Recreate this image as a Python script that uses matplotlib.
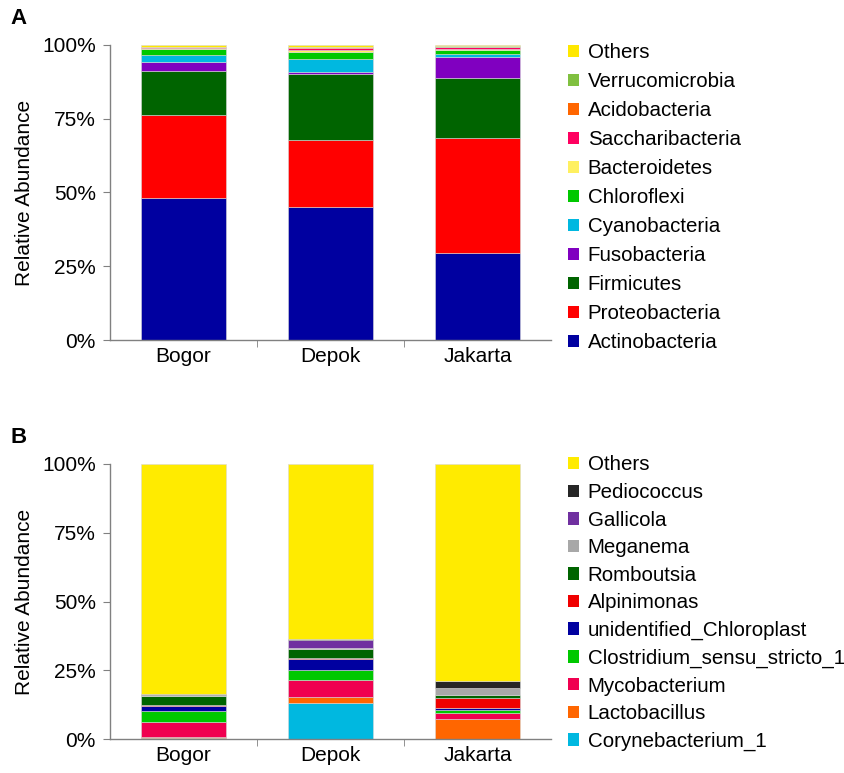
import matplotlib
matplotlib.use("Agg")
import matplotlib.pyplot as plt
from matplotlib.patches import Patch
from matplotlib.ticker import FixedLocator, PercentFormatter

plt.rcParams['font.family'] = ['Liberation Sans', 'DejaVu Sans']

sites = ["Bogor", "Depok", "Jakarta"]

# Panel A: phylum level, bottom to top
phyla = ["Actinobacteria", "Proteobacteria", "Firmicutes", "Fusobacteria",
         "Cyanobacteria", "Chloroflexi", "Bacteroidetes", "Saccharibacteria",
         "Acidobacteria", "Verrucomicrobia", "Others"]
phyla_colors = ["#0000a0", "#ff0000", "#006400", "#8000c0", "#00b8e0",
                "#00c800", "#fff060", "#ff0060", "#ff6600", "#80c040", "#ffe800"]
phyla_vals = {
    "Bogor":   [48.1, 28.1, 15.0, 3.1, 2.2, 2.0, 0.3, 0.4, 0.1, 0.1, 0.6],
    "Depok":   [45.1, 22.7, 22.2, 0.9, 4.4, 2.2, 0.8, 0.6, 0.3, 0.2, 0.6],
    "Jakarta": [29.5, 39.0, 20.2, 7.1, 1.1, 1.5, 0.3, 0.4, 0.2, 0.2, 0.5],
}

# Panel B: genus level, bottom to top
genera = ["Corynebacterium_1", "Lactobacillus", "Mycobacterium",
          "Clostridium_sensu_stricto_1", "unidentified_Chloroplast",
          "Alpinimonas", "Romboutsia", "Meganema", "Gallicola",
          "Pediococcus", "Others"]
genera_colors = ["#00b8e0", "#ff6600", "#f00050", "#00c800", "#0000a0",
                 "#f00000", "#006400", "#a8a8a8", "#7030a0", "#262626", "#ffeb00"]
genera_vals = {
    "Bogor":   [0.3, 0.4, 5.7, 3.9, 1.9, 0.3, 3.3, 0.3, 0.1, 0.2, 83.6],
    "Depok":   [13.3, 2.2, 6.1, 3.4, 4.0, 0.6, 3.0, 0.6, 2.7, 0.6, 63.5],
    "Jakarta": [0.1, 7.4, 2.0, 1.2, 0.8, 3.6, 0.9, 2.5, 0.1, 2.4, 79.0],
}

fig = plt.figure(figsize=(8.44, 7.73), dpi=100)
axA = fig.add_axes([0.130, 0.560, 0.523, 0.382])
axB = fig.add_axes([0.130, 0.0436, 0.523, 0.3564])

grey = "#808080"


def stacked(ax, names, colors, vals, spacing, top):
    x = range(len(sites))
    bottoms = [0.0] * len(sites)
    for i, (name, col) in enumerate(zip(names, colors)):
        h = [vals[s][i] for s in sites]
        ax.bar(x, h, bottom=bottoms, width=0.58, color=col,
               edgecolor="#d8d8d8", linewidth=0.4, label=name)
        bottoms = [b + v for b, v in zip(bottoms, h)]

    ax.set_xlim(-0.5, 2.5)
    ax.set_ylim(0, 100)
    ax.set_yticks([0, 25, 50, 75, 100])
    ax.yaxis.set_major_formatter(PercentFormatter(decimals=0))
    ax.set_xticks(range(len(sites)))
    ax.set_xticklabels(sites)
    ax.xaxis.set_minor_locator(FixedLocator([0.5, 1.5]))
    ax.tick_params(axis="x", which="major", length=0, pad=5, labelsize=15)
    ax.tick_params(axis="x", which="minor", length=5, color=grey, direction="out")
    ax.tick_params(axis="y", length=5, color=grey, labelsize=15, pad=5)
    for sp in ["top", "right"]:
        ax.spines[sp].set_visible(False)
    for sp in ["left", "bottom"]:
        ax.spines[sp].set_color(grey)
        ax.spines[sp].set_linewidth(1.0)
    ax.set_ylabel("Relative Abundance", fontsize=15, labelpad=6)

    handles = [Patch(facecolor=c) for c in colors][::-1]
    ax.legend(handles, names[::-1], loc="upper left",
              bbox_to_anchor=(1.02, top), frameon=False, fontsize=14.8,
              handlelength=0.55, handleheight=0.55, handletextpad=0.4,
              labelspacing=spacing, borderaxespad=0)


stacked(axA, phyla, phyla_colors, phyla_vals, 0.487, 1.033)
stacked(axB, genera, genera_colors, genera_vals, 0.417, 1.06)

fig.text(0.012, 0.976, "A", fontsize=16, fontweight="bold", va="center")
fig.text(0.012, 0.434, "B", fontsize=16, fontweight="bold", va="center")

fig.savefig("out.png", dpi=100)
